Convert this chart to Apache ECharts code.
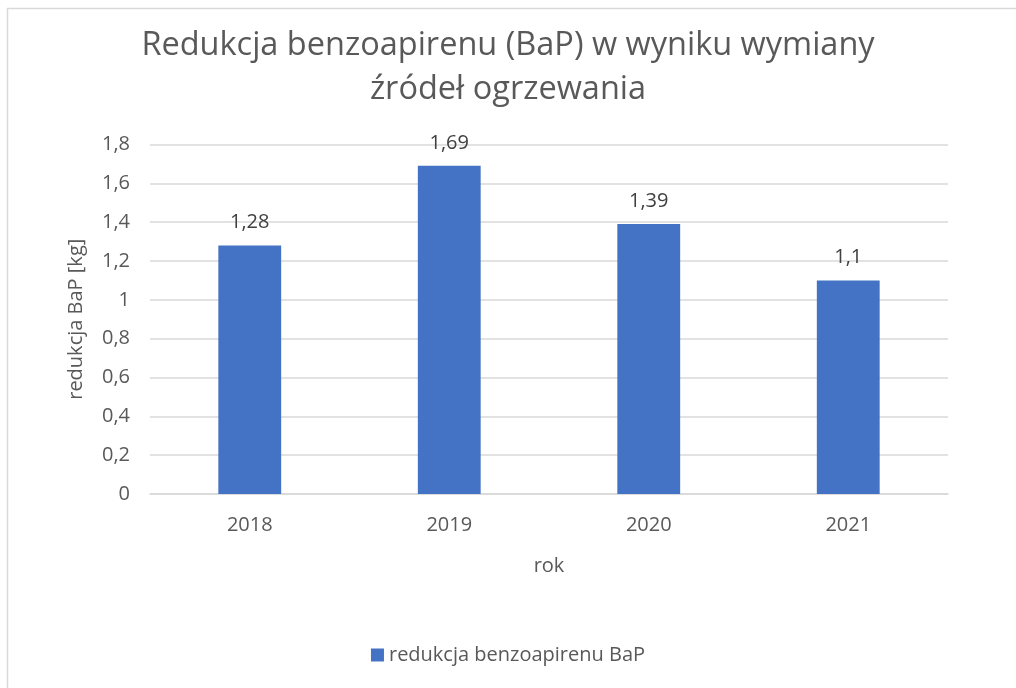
<!DOCTYPE html>
<html>
<head>
<meta charset="utf-8">
<script src="https://cdn.jsdelivr.net/npm/echarts@6/dist/echarts.min.js"></script>
<style>html,body{margin:0;padding:0;background:#fff}#c{width:1016px;height:688px}</style>
</head>
<body>
<div id="c"></div>
<script>
const categories = ['2018', '2019', '2020', '2021'];
const values = [1.28, 1.69, 1.39, 1.1];
const seriesName = 'redukcja benzoapirenu BaP';
const titleText = 'Redukcja benzoapirenu (BaP) w wyniku wymiany\nźródeł ogrzewania';

const FONT = 'Open Sans';
const chart = echarts.init(document.getElementById('c'));
chart.setOption({
  animation: false,
  backgroundColor: '#fff',
  textStyle: { fontFamily: FONT },
  graphic: [{
    type: 'rect', shape: { x: 7.5, y: 8.5, width: 1020, height: 700 },
    style: { fill: 'none', stroke: '#d9d9d9', lineWidth: 1.5 }, silent: true
  }],
  title: {
    text: titleText, left: 'center', top: 19,
    textStyle: { fontFamily: FONT, fontSize: 32.5, fontWeight: 'normal', color: '#595959', lineHeight: 44 }
  },
  legend: {
    bottom: 18, left: 'center', itemWidth: 13, itemHeight: 13, itemGap: 6,
    icon: 'rect',
    textStyle: { fontFamily: FONT, fontSize: 20, color: '#595959' },
    data: [seriesName]
  },
  grid: { left: 150, right: 68, top: 144.5, bottom: 194 },
  xAxis: {
    type: 'category', data: categories,
    name: 'rok', nameLocation: 'middle', nameGap: 62,
    nameTextStyle: { fontFamily: FONT, fontSize: 20, color: '#595959' },
    axisLine: { show: true, lineStyle: { color: '#d9d9d9', width: 1.5 } },
    axisTick: { show: false },
    axisLabel: { fontFamily: FONT, fontSize: 20, color: '#595959', margin: 21 }
  },
  yAxis: {
    type: 'value', min: 0, max: 1.8, interval: 0.2,
    name: 'redukcja BaP [kg]', nameLocation: 'middle', nameGap: 64, nameRotate: 90,
    nameTextStyle: { fontFamily: FONT, fontSize: 20, color: '#595959' },
    axisLine: { show: false }, axisTick: { show: false },
    splitLine: { lineStyle: { color: '#d9d9d9', width: 1.5 } },
    axisLabel: {
      fontFamily: FONT, fontSize: 20, color: '#595959', margin: 20,
      formatter: v => String(Math.round(v * 10) / 10).replace('.', ',')
    }
  },
  series: [{
    name: seriesName, type: 'bar', data: values, barWidth: '31.5%',
    itemStyle: { color: '#4472C4' },
    label: {
      show: true, position: 'top', distance: 13,
      fontFamily: FONT, fontSize: 20, color: '#404040',
      formatter: p => String(p.value).replace('.', ',')
    }
  }]
});
</script>
</body>
</html>
